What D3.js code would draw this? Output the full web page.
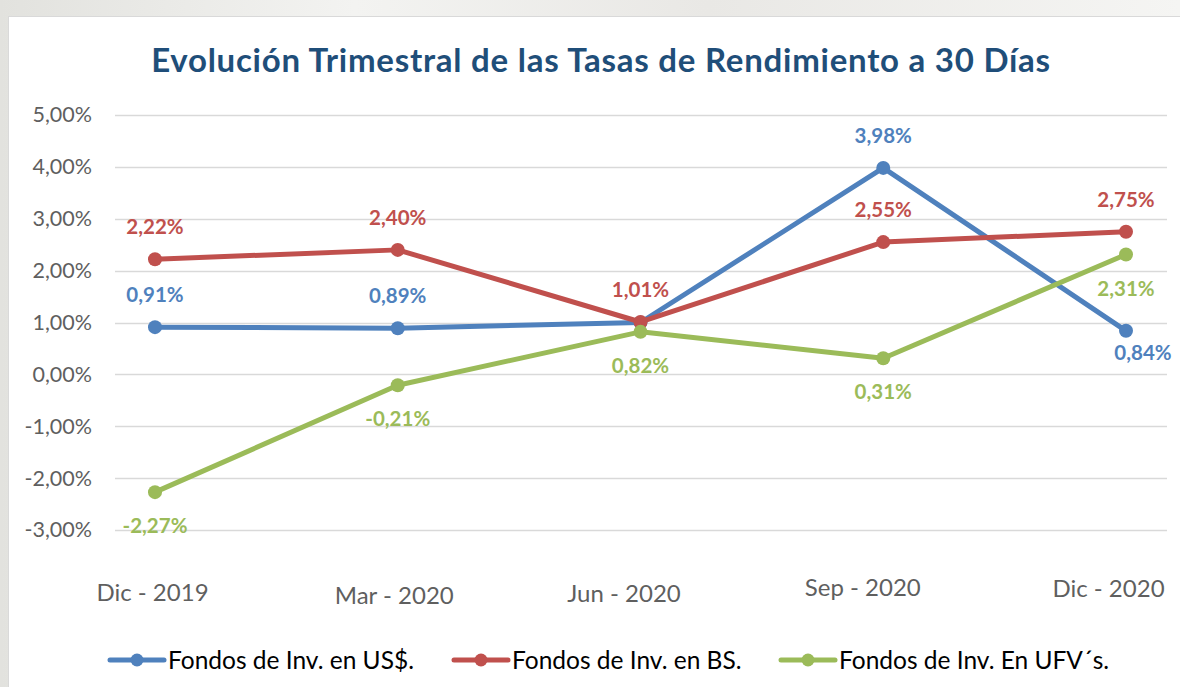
<!DOCTYPE html>
<html lang="es">
<head>
    <meta charset="UTF-8">
    <title>Tasas de Rendimiento</title>
    <script src="https://d3js.org/d3.v7.min.js"></script>
    <style>
        body { margin: 0; background: linear-gradient(90deg, #e2e2de 0%, #f3f3f1 30%, #e9e8e5 60%, #f5f5f3 100%); }
        svg { display: block; font-family: Lato, "Open Sans", sans-serif; }
    </style>
</head>
<body>
<svg width="1180" height="687"></svg>
<script>
    var categories = ["Dic - 2019", "Mar - 2020", "Jun - 2020", "Sep - 2020", "Dic - 2020"];
    var usdValues = [0.91, 0.89, 1.00, 3.98, 0.84];
    var bsValues = [2.22, 2.40, 1.01, 2.55, 2.75];
    var ufvValues = [-2.27, -0.21, 0.82, 0.31, 2.31];
    var seriesNames = ["Fondos de Inv. en US$.", "Fondos de Inv. en BS.", "Fondos de Inv. En UFV´s."];
    var yTicks = [-3, -2, -1, 0, 1, 2, 3, 4, 5];
    // data label placement: "a" above, "b" below, "r" below right, "" hidden
    var usdLabelPos = ["a", "a", "", "a", "r"];
    var bsLabelPos = ["a", "a", "a", "a", "a"];
    var ufvLabelPos = ["b", "b", "b", "b", "b"];
    // excel staggers the category labels a bit
    var xLabelDx = [-3, -4, -17, -21, -18];
    var xLabelDy = [0, 3, 1, -5, -4];

    var svg = d3.select("svg");

    var locale = d3.formatLocale({decimal: ",", thousands: ".", grouping: [3], currency: ["", ""], minus: "-"});
    var fmt = locale.format(".2f");
    var pct = function (v) { return fmt(v) + "%"; };

    // chart box
    svg.append("rect")
        .attr("x", 8.5).attr("y", 16.5)
        .attr("width", 1190).attr("height", 700)
        .attr("fill", "#fff").attr("stroke", "#d9d9d9");

    svg.append("text")
        .attr("x", 601).attr("y", 72)
        .attr("text-anchor", "middle")
        .attr("font-size", 33).attr("font-weight", "bold")
        .attr("letter-spacing", 0.75)
        .attr("fill", "#1f4e79")
        .text("Evolución Trimestral de las Tasas de Rendimiento a 30 Días");

    var x = d3.scalePoint().domain(categories).range([155, 1126]);
    var y = d3.scaleLinear().domain([-3, 5]).range([530, 115]);

    // grid
    svg.append("g").selectAll("line")
        .data(yTicks).enter().append("line")
        .attr("x1", 115).attr("x2", 1167)
        .attr("y1", function (d) { return Math.round(y(d)) + 0.5; })
        .attr("y2", function (d) { return Math.round(y(d)) + 0.5; })
        .attr("stroke", "#d9d9d9").attr("stroke-width", 1.5);

    var yAxis = svg.append("g")
        .attr("transform", "translate(92,0)")
        .call(d3.axisLeft(y).tickValues(yTicks).tickSize(0).tickPadding(0).tickFormat(pct));
    yAxis.select(".domain").remove();
    yAxis.selectAll("text")
        .attr("font-family", "Lato, sans-serif")
        .attr("font-size", 21.5).attr("fill", "#5f5f5f");

    var xAxis = svg.append("g")
        .attr("transform", "translate(0,593)")
        .call(d3.axisBottom(x).tickSize(0).tickPadding(0));
    xAxis.select(".domain").remove();
    xAxis.selectAll("text")
        .attr("font-family", "Lato, sans-serif")
        .attr("font-size", 24).attr("fill", "#5f5f5f")
        .attr("dy", "0.35em")
        .attr("x", function (d, i) { return xLabelDx[i]; })
        .attr("y", function (d, i) { return xLabelDy[i]; });

    var series = [
        {name: seriesNames[0], values: usdValues, labels: usdLabelPos, color: "#4f81bd"},
        {name: seriesNames[1], values: bsValues, labels: bsLabelPos, color: "#c0504d"},
        {name: seriesNames[2], values: ufvValues, labels: ufvLabelPos, color: "#9bbb59"}
    ];

    var line = d3.line()
        .x(function (d, i) { return x(categories[i]); })
        .y(function (d) { return y(d); });

    series.forEach(function (s) {
        var g = svg.append("g");
        g.append("path")
            .datum(s.values)
            .attr("d", line)
            .attr("fill", "none")
            .attr("stroke", s.color)
            .attr("stroke-width", 5)
            .attr("stroke-linejoin", "round");
        g.selectAll("circle")
            .data(s.values).enter().append("circle")
            .attr("cx", function (d, i) { return x(categories[i]); })
            .attr("cy", function (d) { return y(d); })
            .attr("r", 7)
            .attr("fill", s.color);
    });

    series.forEach(function (s) {
        var pts = s.values.map(function (v, i) { return {v: v, cat: categories[i], pos: s.labels[i]}; })
            .filter(function (p) { return p.pos !== ""; });
        svg.append("g").selectAll("text")
            .data(pts).enter().append("text")
            .attr("x", function (p) { return x(p.cat) + (p.pos === "r" ? 17 : 0); })
            .attr("y", function (p) {
                if (p.pos === "a") return y(p.v) - 25;
                if (p.pos === "r") return y(p.v) + 29;
                return y(p.v) + 41;
            })
            .attr("text-anchor", "middle")
            .attr("font-size", 20.5).attr("font-weight", "bold")
            .attr("fill", s.color)
            .text(function (p) { return pct(p.v); });
    });

    // legend
    var legendX = [110, 454, 781];
    var legend = svg.append("g").attr("transform", "translate(0,660)");
    series.forEach(function (s, i) {
        var item = legend.append("g").attr("transform", "translate(" + legendX[i] + ",0)");
        item.append("line").attr("x1", 0).attr("x2", 54)
            .attr("stroke", s.color).attr("stroke-width", 5).attr("stroke-linecap", "round");
        item.append("circle").attr("cx", 27).attr("r", 6.5).attr("fill", s.color);
        item.append("text").attr("x", 58).attr("dy", "0.35em")
            .attr("font-size", 24.5).attr("fill", "#000")
            .text(s.name);
    });
</script>
</body>
</html>
